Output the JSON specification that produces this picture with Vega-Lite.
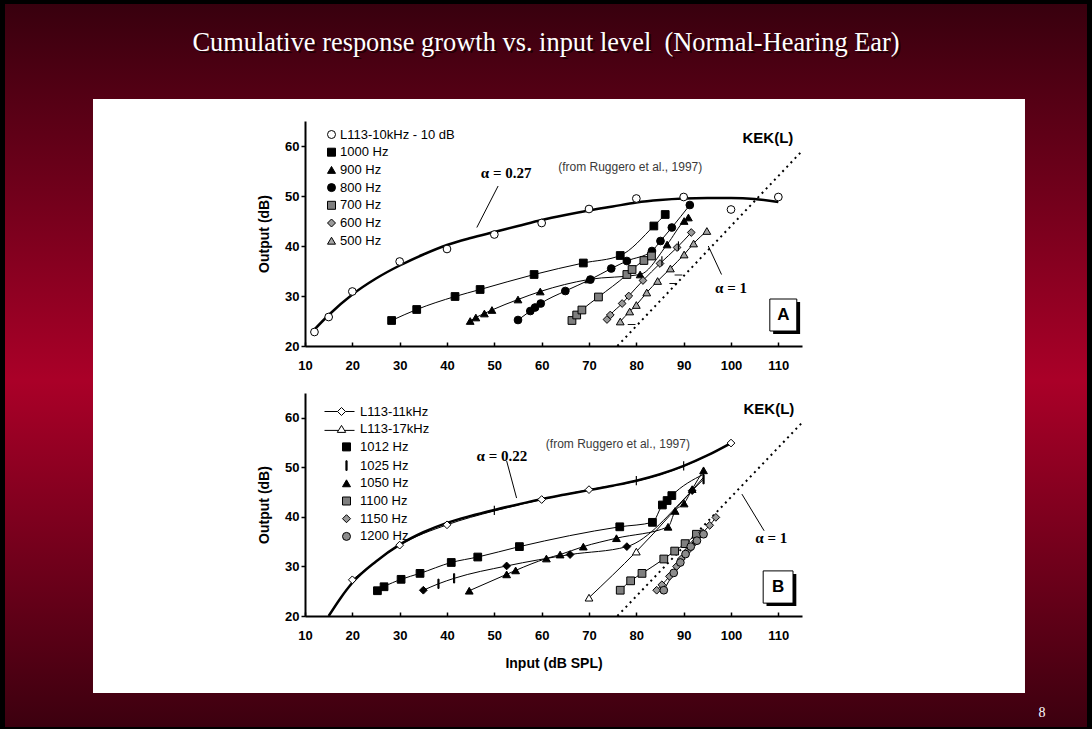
{
  "$schema": "https://vega.github.io/schema/vega-lite/v6.json",
  "background": "#000000",
  "padding": 0,
  "bounds": "flush",
  "spacing": 47,
  "config": {
    "view": {"stroke": null},
    "font": "Liberation Sans",
    "axis": {
      "grid": false, "domainColor": "#000000", "domainWidth": 2, "tickColor": "#000000", "tickWidth": 1.5,
      "labelColor": "#000000", "labelFont": "Liberation Sans", "labelFontWeight": "bold", "labelFontSize": 13,
      "titleColor": "#000000", "titleFont": "Liberation Sans", "titleFontWeight": "bold", "titleFontSize": 14,
      "labelOverlap": false, "labelFlush": false, "labelBound": false
    },
    "axisX": {"tickSize": -4, "labelPadding": 17, "titlePadding": 14},
    "axisY": {"tickSize": 4, "labelPadding": 2, "titlePadding": 13},
    "legend": {
      "labelFont": "Liberation Sans", "labelFontSize": 13, "labelColor": "#000000",
      "symbolSize": 64, "symbolStrokeWidth": 1, "rowPadding": 3.7, "padding": 0
    }
  },
  "datasets": {
    "one": [{"k": 1}],
    "kek": [{"input": 76, "output": 20}, {"input": 115, "output": 59}],
    "topPts": [
      {"series": "L113-10kHz - 10 dB", "input": 12, "output": 22.8},
      {"series": "L113-10kHz - 10 dB", "input": 15, "output": 25.8},
      {"series": "L113-10kHz - 10 dB", "input": 20, "output": 30.9},
      {"series": "L113-10kHz - 10 dB", "input": 30, "output": 36.9},
      {"series": "L113-10kHz - 10 dB", "input": 40, "output": 39.4},
      {"series": "L113-10kHz - 10 dB", "input": 50, "output": 42.3},
      {"series": "L113-10kHz - 10 dB", "input": 60, "output": 44.6},
      {"series": "L113-10kHz - 10 dB", "input": 70, "output": 47.4},
      {"series": "L113-10kHz - 10 dB", "input": 80, "output": 49.5},
      {"series": "L113-10kHz - 10 dB", "input": 90, "output": 49.8},
      {"series": "L113-10kHz - 10 dB", "input": 100, "output": 47.3},
      {"series": "L113-10kHz - 10 dB", "input": 110, "output": 49.8},
      {"series": "1000 Hz", "input": 28.3, "output": 25.1},
      {"series": "1000 Hz", "input": 33.6, "output": 27.3},
      {"series": "1000 Hz", "input": 41.7, "output": 29.9},
      {"series": "1000 Hz", "input": 47, "output": 31.3},
      {"series": "1000 Hz", "input": 58.4, "output": 34.3},
      {"series": "1000 Hz", "input": 68.8, "output": 36.6},
      {"series": "1000 Hz", "input": 76.6, "output": 38.1},
      {"series": "1000 Hz", "input": 83.7, "output": 44},
      {"series": "1000 Hz", "input": 86.1, "output": 46.3},
      {"series": "900 Hz", "input": 44.9, "output": 25},
      {"series": "900 Hz", "input": 46.1, "output": 25.7},
      {"series": "900 Hz", "input": 47.9, "output": 26.5},
      {"series": "900 Hz", "input": 49.5, "output": 27.2},
      {"series": "900 Hz", "input": 55, "output": 29.3},
      {"series": "900 Hz", "input": 59.7, "output": 30.9},
      {"series": "900 Hz", "input": 69.9, "output": 33.3},
      {"series": "900 Hz", "input": 80.8, "output": 34.3},
      {"series": "900 Hz", "input": 86.5, "output": 40.3},
      {"series": "900 Hz", "input": 90.1, "output": 45},
      {"series": "900 Hz", "input": 91, "output": 45.7},
      {"series": "800 Hz", "input": 55, "output": 25.2},
      {"series": "800 Hz", "input": 57.6, "output": 27},
      {"series": "800 Hz", "input": 58.6, "output": 27.7},
      {"series": "800 Hz", "input": 59.8, "output": 28.5},
      {"series": "800 Hz", "input": 65, "output": 31},
      {"series": "800 Hz", "input": 70.3, "output": 33.3},
      {"series": "800 Hz", "input": 74.7, "output": 35.5},
      {"series": "800 Hz", "input": 78, "output": 37},
      {"series": "800 Hz", "input": 83.3, "output": 39},
      {"series": "800 Hz", "input": 85.1, "output": 41},
      {"series": "800 Hz", "input": 87.5, "output": 43.7},
      {"series": "800 Hz", "input": 91.3, "output": 48.2},
      {"series": "700 Hz", "input": 66.4, "output": 25.1},
      {"series": "700 Hz", "input": 67.4, "output": 26.2},
      {"series": "700 Hz", "input": 68.5, "output": 27.2},
      {"series": "700 Hz", "input": 72, "output": 29.8},
      {"series": "700 Hz", "input": 78, "output": 34.3},
      {"series": "700 Hz", "input": 79.1, "output": 35.3},
      {"series": "700 Hz", "input": 81.6, "output": 37.1},
      {"series": "700 Hz", "input": 83.2, "output": 38},
      {"series": "600 Hz", "input": 73.8, "output": 25.3},
      {"series": "600 Hz", "input": 74.5, "output": 26.2},
      {"series": "600 Hz", "input": 77, "output": 28.5},
      {"series": "600 Hz", "input": 78.4, "output": 30},
      {"series": "600 Hz", "input": 81.4, "output": 33.1},
      {"series": "600 Hz", "input": 85, "output": 36.5},
      {"series": "600 Hz", "input": 88.6, "output": 39.7},
      {"series": "600 Hz", "input": 91.6, "output": 42.7},
      {"series": "500 Hz", "input": 76.6, "output": 24.9},
      {"series": "500 Hz", "input": 78.6, "output": 26.9},
      {"series": "500 Hz", "input": 80, "output": 28.2},
      {"series": "500 Hz", "input": 82.2, "output": 30.7},
      {"series": "500 Hz", "input": 84.5, "output": 33},
      {"series": "500 Hz", "input": 87.2, "output": 35.5},
      {"series": "500 Hz", "input": 90.1, "output": 38.3},
      {"series": "500 Hz", "input": 92.1, "output": 40.5},
      {"series": "500 Hz", "input": 94.9, "output": 43}
    ],
    "topFit": [
      {"input": 11.5, "output": 22.8}, {"input": 15, "output": 26.2}, {"input": 20, "output": 30.3},
      {"input": 25, "output": 33.5}, {"input": 30, "output": 36.1}, {"input": 35, "output": 38.3},
      {"input": 40, "output": 40.2}, {"input": 45, "output": 41.6}, {"input": 50, "output": 42.8},
      {"input": 55, "output": 44}, {"input": 60, "output": 45.2}, {"input": 65, "output": 46.2},
      {"input": 70, "output": 47.1}, {"input": 75, "output": 47.9}, {"input": 80, "output": 48.7},
      {"input": 85, "output": 49.2}, {"input": 90, "output": 49.5}, {"input": 95, "output": 49.6},
      {"input": 100, "output": 49.6}, {"input": 105, "output": 49.4}, {"input": 110, "output": 48.8}
    ],
    "topDashes": [
      {"input": 79, "output": 24.3}, {"input": 87.8, "output": 32.5}, {"input": 88.9, "output": 34.2}
    ],
    "topBars": [
      {"input": 85.4, "output": 37}, {"input": 88.9, "output": 40}
    ],
    "botPts": [
      {"series": "L113-11kHz", "input": 20, "output": 27.3},
      {"series": "L113-11kHz", "input": 30, "output": 34.3},
      {"series": "L113-11kHz", "input": 40, "output": 38.4},
      {"series": "L113-11kHz", "input": 60, "output": 43.5},
      {"series": "L113-11kHz", "input": 70, "output": 45.5},
      {"series": "L113-11kHz", "input": 100, "output": 54.9},
      {"series": "L113-17kHz", "input": 70, "output": 23.7},
      {"series": "L113-17kHz", "input": 80, "output": 33},
      {"series": "1012 Hz", "input": 25.3, "output": 25.1},
      {"series": "1012 Hz", "input": 26.7, "output": 25.9},
      {"series": "1012 Hz", "input": 30.3, "output": 27.4},
      {"series": "1012 Hz", "input": 34.3, "output": 28.6},
      {"series": "1012 Hz", "input": 40.9, "output": 30.8},
      {"series": "1012 Hz", "input": 46.5, "output": 31.9},
      {"series": "1012 Hz", "input": 55.3, "output": 34},
      {"series": "1012 Hz", "input": 76.5, "output": 38},
      {"series": "1012 Hz", "input": 83.4, "output": 38.9},
      {"series": "1012 Hz", "input": 85.5, "output": 42.4},
      {"series": "1012 Hz", "input": 86.5, "output": 43.3},
      {"series": "1012 Hz", "input": 87.5, "output": 44.3},
      {"series": "1025 Hz", "input": 38.2, "output": 26.5},
      {"series": "1025 Hz", "input": 41.5, "output": 27.6},
      {"series": "1025 Hz", "input": 94.2, "output": 47.6},
      {"series": "1025 Hz b", "input": 35, "output": 25.2},
      {"series": "1025 Hz b", "input": 52.6, "output": 30.1},
      {"series": "1025 Hz b", "input": 66, "output": 32.4},
      {"series": "1025 Hz b", "input": 78, "output": 34},
      {"series": "1025 Hz b", "input": 91.8, "output": 45.3},
      {"series": "1050 Hz", "input": 44.7, "output": 25.1},
      {"series": "1050 Hz", "input": 52.6, "output": 28.4},
      {"series": "1050 Hz", "input": 54.5, "output": 29.2},
      {"series": "1050 Hz", "input": 61, "output": 31.6},
      {"series": "1050 Hz", "input": 63.9, "output": 32.4},
      {"series": "1050 Hz", "input": 68.8, "output": 34},
      {"series": "1050 Hz", "input": 75.8, "output": 35.7},
      {"series": "1050 Hz", "input": 86.7, "output": 38},
      {"series": "1050 Hz", "input": 88.2, "output": 41.2},
      {"series": "1050 Hz", "input": 90.1, "output": 42.7},
      {"series": "1050 Hz", "input": 91.8, "output": 45.6},
      {"series": "1050 Hz", "input": 94.2, "output": 49.4},
      {"series": "1100 Hz", "input": 76.6, "output": 25.2},
      {"series": "1100 Hz", "input": 78.8, "output": 27.1},
      {"series": "1100 Hz", "input": 81.2, "output": 28.6},
      {"series": "1100 Hz", "input": 85.8, "output": 31.5},
      {"series": "1100 Hz", "input": 88.1, "output": 33.1},
      {"series": "1100 Hz", "input": 90.3, "output": 34.6},
      {"series": "1100 Hz", "input": 92.7, "output": 36.5},
      {"series": "1150 Hz", "input": 84.3, "output": 25.2},
      {"series": "1150 Hz", "input": 85.4, "output": 26.3},
      {"series": "1150 Hz", "input": 87, "output": 28},
      {"series": "1150 Hz", "input": 88.5, "output": 30},
      {"series": "1150 Hz", "input": 89.5, "output": 31.5},
      {"series": "1150 Hz", "input": 91, "output": 33.3},
      {"series": "1150 Hz", "input": 92.5, "output": 35},
      {"series": "1150 Hz", "input": 94, "output": 36.8},
      {"series": "1150 Hz", "input": 95.5, "output": 38.3},
      {"series": "1150 Hz", "input": 96.8, "output": 39.9},
      {"series": "1200 Hz", "input": 85.8, "output": 25.2},
      {"series": "1200 Hz", "input": 87.9, "output": 28.7},
      {"series": "1200 Hz", "input": 89.3, "output": 30.8},
      {"series": "1200 Hz", "input": 90.4, "output": 32.5},
      {"series": "1200 Hz", "input": 91.5, "output": 34},
      {"series": "1200 Hz", "input": 92.8, "output": 35.2},
      {"series": "1200 Hz", "input": 94.2, "output": 36.5}
    ],
    "botCurves": [
      {"curve": "11k", "input": 20, "output": 27.3}, {"curve": "11k", "input": 25, "output": 31},
      {"curve": "11k", "input": 30, "output": 34.3}, {"curve": "11k", "input": 40, "output": 38.4},
      {"curve": "11k", "input": 50, "output": 41.2}, {"curve": "11k", "input": 60, "output": 43.5},
      {"curve": "11k", "input": 70, "output": 45.5}, {"curve": "11k", "input": 80, "output": 47.2},
      {"curve": "11k", "input": 90, "output": 50.2}, {"curve": "11k", "input": 100, "output": 54.9},
      {"curve": "17k", "input": 70, "output": 23.7}, {"curve": "17k", "input": 80, "output": 33},
      {"curve": "17k", "input": 94.2, "output": 48},
      {"curve": "1012", "input": 25.3, "output": 25.1}, {"curve": "1012", "input": 26.7, "output": 25.9},
      {"curve": "1012", "input": 30.3, "output": 27.4}, {"curve": "1012", "input": 34.3, "output": 28.6},
      {"curve": "1012", "input": 40.9, "output": 30.8}, {"curve": "1012", "input": 46.5, "output": 31.9},
      {"curve": "1012", "input": 55.3, "output": 34}, {"curve": "1012", "input": 76.5, "output": 38},
      {"curve": "1012", "input": 83.4, "output": 38.9}, {"curve": "1012", "input": 85.5, "output": 42.4},
      {"curve": "1012", "input": 86.5, "output": 43.3}, {"curve": "1012", "input": 87.5, "output": 44.3},
      {"curve": "1012", "input": 94.2, "output": 48.6},
      {"curve": "1025", "input": 35, "output": 25.2}, {"curve": "1025", "input": 38.2, "output": 26.5},
      {"curve": "1025", "input": 41.5, "output": 27.6}, {"curve": "1025", "input": 52.6, "output": 30.1},
      {"curve": "1025", "input": 66, "output": 32.4}, {"curve": "1025", "input": 78, "output": 34},
      {"curve": "1025", "input": 91.8, "output": 45.3}, {"curve": "1025", "input": 94.2, "output": 47.6},
      {"curve": "1050", "input": 44.7, "output": 25.1}, {"curve": "1050", "input": 52.6, "output": 28.4},
      {"curve": "1050", "input": 54.5, "output": 29.2}, {"curve": "1050", "input": 61, "output": 31.6},
      {"curve": "1050", "input": 63.9, "output": 32.4}, {"curve": "1050", "input": 68.8, "output": 34},
      {"curve": "1050", "input": 75.8, "output": 35.7}, {"curve": "1050", "input": 86.7, "output": 38},
      {"curve": "1050", "input": 88.2, "output": 41.2}, {"curve": "1050", "input": 90.1, "output": 42.7},
      {"curve": "1050", "input": 91.8, "output": 45.6}, {"curve": "1050", "input": 94.2, "output": 49.4},
      {"curve": "1100", "input": 76.6, "output": 25.2}, {"curve": "1100", "input": 78.8, "output": 27.1},
      {"curve": "1100", "input": 81.2, "output": 28.6}, {"curve": "1100", "input": 85.8, "output": 31.5},
      {"curve": "1100", "input": 88.1, "output": 33.1}, {"curve": "1100", "input": 90.3, "output": 34.6},
      {"curve": "1100", "input": 92.7, "output": 36.5},
      {"curve": "1150", "input": 84.3, "output": 25.2}, {"curve": "1150", "input": 85.4, "output": 26.3},
      {"curve": "1150", "input": 87, "output": 28}, {"curve": "1150", "input": 88.5, "output": 30},
      {"curve": "1150", "input": 89.5, "output": 31.5}, {"curve": "1150", "input": 91, "output": 33.3},
      {"curve": "1150", "input": 92.5, "output": 35}, {"curve": "1150", "input": 94, "output": 36.8},
      {"curve": "1150", "input": 95.5, "output": 38.3}, {"curve": "1150", "input": 96.8, "output": 39.9},
      {"curve": "1200", "input": 85.8, "output": 25.2}, {"curve": "1200", "input": 87.9, "output": 28.7},
      {"curve": "1200", "input": 89.3, "output": 30.8}, {"curve": "1200", "input": 90.4, "output": 32.5},
      {"curve": "1200", "input": 91.5, "output": 34}, {"curve": "1200", "input": 92.8, "output": 35.2},
      {"curve": "1200", "input": 94.2, "output": 36.5}
    ],
    "botFit": [
      {"input": 15, "output": 20}, {"input": 17.5, "output": 23.6}, {"input": 20, "output": 26.7},
      {"input": 25, "output": 31}, {"input": 30, "output": 34.4}, {"input": 35, "output": 36.9},
      {"input": 40, "output": 38.8}, {"input": 45, "output": 40.2}, {"input": 50, "output": 41.4},
      {"input": 55, "output": 42.5}, {"input": 60, "output": 43.6}, {"input": 65, "output": 44.5},
      {"input": 70, "output": 45.4}, {"input": 75, "output": 46.3}, {"input": 80, "output": 47.3},
      {"input": 85, "output": 48.6}, {"input": 90, "output": 50.3}, {"input": 95, "output": 52.4},
      {"input": 100, "output": 54.9}
    ],
    "fitMarks": [
      {"input": 50, "output": 41.3}, {"input": 80, "output": 47.3}, {"input": 90, "output": 50.3}
    ]
  },
  "vconcat": [
    {
      "width": 497,
      "height": 225,
      "layer": [
        {"data": {"name": "one"}, "mark": {"type": "rect", "fill": "#000000", "clip": false},
         "encoding": {"x": {"datum": -54.4366, "type": "quantitative"}, "x2": {"datum": 176.2676}, "y": {"datum": 89, "type": "quantitative"}, "y2": {"datum": -56.8}}},
        {"data": {"name": "one"},
         "mark": {"type": "rect", "clip": false,
                  "fill": {"gradient": "linear", "x1": 0, "y1": 0, "x2": 0, "y2": 1,
                           "stops": [{"offset": 0, "color": "#38000e"}, {"offset": 0.52, "color": "#aa0028"}, {"offset": 1, "color": "#3c000f"}]}},
         "encoding": {"x": {"datum": -53.38, "type": "quantitative"}, "x2": {"datum": 175.21}, "y": {"datum": 88.4, "type": "quantitative"}, "y2": {"datum": -56.2}}},
        {"data": {"name": "one"}, "mark": {"type": "rect", "fill": "#ffffff", "clip": false},
         "encoding": {"x": {"datum": -34.79, "type": "quantitative"}, "x2": {"datum": 162.11}, "y": {"datum": 69.4, "type": "quantitative"}, "y2": {"datum": -49.4}}},
        {"data": {"name": "one"},
         "mark": {"type": "text", "font": "Liberation Serif", "fontSize": 26.4, "fill": "#140003", "opacity": 0.8, "align": "center", "baseline": "middle", "dx": 2, "dy": 2, "clip": false},
         "encoding": {"x": {"datum": 60.92, "type": "quantitative"}, "y": {"datum": 80.6, "type": "quantitative"}, "text": {"value": "Cumulative response growth vs. input level \u00a0(Normal-Hearing Ear)"}}},
        {"data": {"name": "one"},
         "mark": {"type": "text", "font": "Liberation Serif", "fontSize": 26.4, "fill": "#ffffff", "align": "center", "baseline": "middle", "clip": false},
         "encoding": {"x": {"datum": 60.92, "type": "quantitative"}, "y": {"datum": 80.6, "type": "quantitative"}, "text": {"value": "Cumulative response growth vs. input level \u00a0(Normal-Hearing Ear)"}}},
        {"data": {"name": "one"},
         "mark": {"type": "text", "font": "Liberation Serif", "fontSize": 14, "fill": "#ffffff", "align": "center", "baseline": "middle", "clip": false},
         "encoding": {"x": {"datum": 165.7, "type": "quantitative"}, "y": {"datum": -53.4, "type": "quantitative"}, "text": {"value": "8"}}},
        {"data": {"name": "one"}, "mark": {"type": "rect", "fill": "#000000"},
         "encoding": {"x": {"datum": 108.9, "type": "quantitative"}, "x2": {"datum": 114.6}, "y": {"datum": 28.8, "type": "quantitative"}, "y2": {"datum": 22.4}}},
        {"data": {"name": "one"}, "mark": {"type": "rect", "fill": "#ffffff", "stroke": "#000000", "strokeWidth": 1},
         "encoding": {"x": {"datum": 108.2, "type": "quantitative"}, "x2": {"datum": 113.9}, "y": {"datum": 29.4, "type": "quantitative"}, "y2": {"datum": 23}}},
        {"data": {"name": "one"},
         "mark": {"type": "text", "fontSize": 17, "fontWeight": "bold", "align": "center", "baseline": "middle", "fill": "#000000"},
         "encoding": {"x": {"datum": 111.05, "type": "quantitative"}, "y": {"datum": 26.2, "type": "quantitative"}, "text": {"value": "A"}}},
        {
          "encoding": {
            "x": {"field": "input", "type": "quantitative", "scale": {"domain": [10, 115], "nice": false, "zero": false},
                  "axis": {"title": null, "zindex": 1, "values": [10,15,20,25,30,35,40,45,50,55,60,65,70,75,80,85,90,95,100,105,110,115], "labelExpr": "datum.value % 10 === 0 ? datum.label : ''"}},
            "y": {"field": "output", "type": "quantitative", "scale": {"domain": [20, 65], "nice": false, "zero": false},
                  "axis": {"title": "Output (dB)", "zindex": 1, "values": [20,25,30,35,40,45,50,55,60,65], "labelExpr": "datum.value % 10 === 0 ? datum.label : ''"}}
          },
          "layer": [
            {"data": {"name": "kek"}, "mark": {"type": "line", "color": "#000000", "strokeWidth": 2, "strokeDash": [2, 4], "clip": false},
             "encoding": {}},
            {"data": {"name": "topFit"}, "mark": {"type": "line", "color": "#000000", "strokeWidth": 2.5, "interpolate": "monotone"},
             "encoding": {}},
            {"data": {"name": "topPts"},
             "transform": [{"filter": "datum.series !== 'L113-10kHz - 10 dB'"}],
             "mark": {"type": "line", "color": "#000000", "strokeWidth": 1, "interpolate": "monotone"},
             "encoding": {"detail": {"field": "series"}, "order": {"field": "input", "type": "quantitative"}}},
            {"data": {"name": "topPts"},
             "mark": {"type": "point", "filled": true, "size": 60, "strokeWidth": 1, "opacity": 1},
             "encoding": {
               "shape": {"field": "series", "type": "nominal",
                         "scale": {"domain": ["L113-10kHz - 10 dB", "1000 Hz", "900 Hz", "800 Hz", "700 Hz", "600 Hz", "500 Hz"],
                                   "range": ["circle", "square", "triangle-up", "circle", "square", "diamond", "triangle-up"]},
                         "legend": {"title": null, "orient": "none", "legendX": 20, "legendY": 7, "labelOffset": 2}},
               "fill": {"field": "series", "type": "nominal",
                        "scale": {"domain": ["L113-10kHz - 10 dB", "1000 Hz", "900 Hz", "800 Hz", "700 Hz", "600 Hz", "500 Hz"],
                                  "range": ["#ffffff", "#000000", "#000000", "#000000", "#7f7f7f", "#999999", "#a6a6a6"]},
                        "legend": {"title": null, "orient": "none", "legendX": 20, "legendY": 7, "labelOffset": 2}},
               "stroke": {"field": "series", "type": "nominal",
                          "scale": {"domain": ["L113-10kHz - 10 dB", "1000 Hz", "900 Hz", "800 Hz", "700 Hz", "600 Hz", "500 Hz"],
                                    "range": ["#000000", "#000000", "#000000", "#000000", "#000000", "#000000", "#000000"]},
                          "legend": {"title": null, "orient": "none", "legendX": 20, "legendY": 7, "labelOffset": 2}}
             }},
            {"data": {"name": "topDashes"},
             "mark": {"type": "point", "filled": true, "size": 60, "fill": "#000000", "opacity": 1, "shape": "M-1,-0.12H1V0.12H-1Z"},
             "encoding": {}},
            {"data": {"name": "topBars"},
             "mark": {"type": "point", "filled": true, "size": 60, "fill": "#000000", "opacity": 1, "shape": "M-0.15,-1.2H0.15V1.2H-0.15Z"},
             "encoding": {}}
          ]
        },
        {"data": {"name": "one"},
         "mark": {"type": "text", "font": "Liberation Serif", "fontSize": 15, "fontWeight": "bold", "align": "center", "baseline": "middle", "fill": "#000000"},
         "encoding": {"x": {"datum": 52.5, "type": "quantitative"}, "y": {"datum": 54.6, "type": "quantitative"}, "text": {"value": "α = 0.27"}}},
        {"data": {"name": "one"},
         "mark": {"type": "text", "fontSize": 12, "letterSpacing": 1.9, "align": "center", "baseline": "middle", "fill": "#3a3a3a"},
         "encoding": {"x": {"datum": 78.7, "type": "quantitative"}, "y": {"datum": 55.8, "type": "quantitative"}, "text": {"value": "(from Ruggero et al., 1997)"}}},
        {"data": {"name": "one"},
         "mark": {"type": "text", "fontSize": 15, "fontWeight": "bold", "align": "center", "baseline": "middle", "fill": "#000000", "letterSpacing": -0.5},
         "encoding": {"x": {"datum": 107.8, "type": "quantitative"}, "y": {"datum": 61.6, "type": "quantitative"}, "text": {"value": "KEK(L)"}}},
        {"data": {"name": "one"},
         "mark": {"type": "text", "font": "Liberation Serif", "fontSize": 15, "fontWeight": "bold", "align": "center", "baseline": "middle", "fill": "#000000"},
         "encoding": {"x": {"datum": 100, "type": "quantitative"}, "y": {"datum": 31.6, "type": "quantitative"}, "text": {"value": "α = 1"}}},
        {"data": {"name": "one"}, "mark": {"type": "rule", "color": "#000000", "strokeWidth": 1},
         "encoding": {"x": {"datum": 50.8, "type": "quantitative"}, "y": {"datum": 52, "type": "quantitative"}, "x2": {"datum": 46.3}, "y2": {"datum": 43.7}}},
        {"data": {"name": "one"}, "mark": {"type": "rule", "color": "#000000", "strokeWidth": 1},
         "encoding": {"x": {"datum": 98, "type": "quantitative"}, "y": {"datum": 34.3, "type": "quantitative"}, "x2": {"datum": 95.2}, "y2": {"datum": 40}}}
      ]
    },
    {
      "width": 497,
      "height": 223,
      "layer": [
        {"data": {"name": "one"}, "mark": {"type": "rect", "fill": "#000000"},
         "encoding": {"x": {"datum": 107.5, "type": "quantitative"}, "x2": {"datum": 113.8}, "y": {"datum": 28.5, "type": "quantitative"}, "y2": {"datum": 22}}},
        {"data": {"name": "one"}, "mark": {"type": "rect", "fill": "#ffffff", "stroke": "#000000", "strokeWidth": 1},
         "encoding": {"x": {"datum": 106.8, "type": "quantitative"}, "x2": {"datum": 113.1}, "y": {"datum": 29.1, "type": "quantitative"}, "y2": {"datum": 22.6}}},
        {"data": {"name": "one"},
         "mark": {"type": "text", "fontSize": 17, "fontWeight": "bold", "align": "center", "baseline": "middle", "fill": "#000000"},
         "encoding": {"x": {"datum": 109.95, "type": "quantitative"}, "y": {"datum": 25.85, "type": "quantitative"}, "text": {"value": "B"}}},
        {
          "encoding": {
            "x": {"field": "input", "type": "quantitative", "scale": {"domain": [10, 115], "nice": false, "zero": false},
                  "axis": {"title": "Input (dB SPL)", "zindex": 1, "values": [10,15,20,25,30,35,40,45,50,55,60,65,70,75,80,85,90,95,100,105,110,115], "labelExpr": "datum.value % 10 === 0 ? datum.label : ''"}},
            "y": {"field": "output", "type": "quantitative", "scale": {"domain": [20, 65], "nice": false, "zero": false},
                  "axis": {"title": "Output (dB)", "zindex": 1, "values": [20,25,30,35,40,45,50,55,60,65], "labelExpr": "datum.value % 10 === 0 ? datum.label : ''"}}
          },
          "layer": [
            {"data": {"name": "kek"}, "mark": {"type": "line", "color": "#000000", "strokeWidth": 2, "strokeDash": [2, 4], "clip": false},
             "encoding": {}},
            {"data": {"name": "botFit"}, "mark": {"type": "line", "color": "#000000", "strokeWidth": 2.5, "interpolate": "monotone", "clip": false},
             "encoding": {}},
            {"data": {"name": "botCurves"},
             "mark": {"type": "line", "color": "#000000", "strokeWidth": 1, "interpolate": "monotone"},
             "encoding": {"detail": {"field": "curve"}, "order": {"field": "input", "type": "quantitative"}}},
            {"data": {"name": "botPts"},
             "mark": {"type": "point", "filled": true, "size": 60, "stroke": "#000000", "strokeWidth": 1, "opacity": 1},
             "encoding": {
               "shape": {"field": "series", "type": "nominal",
                         "scale": {"domain": ["L113-11kHz", "L113-17kHz", "1012 Hz", "1025 Hz", "1050 Hz", "1100 Hz", "1150 Hz", "1200 Hz", "1025 Hz b"],
                                   "range": ["diamond", "triangle-up", "square", "M-0.15,-1.2H0.15V1.2H-0.15Z", "triangle-up", "square", "diamond", "circle", "diamond"]},
                         "legend": null},
               "fill": {"field": "series", "type": "nominal",
                        "scale": {"domain": ["L113-11kHz", "L113-17kHz", "1012 Hz", "1025 Hz", "1050 Hz", "1100 Hz", "1150 Hz", "1200 Hz", "1025 Hz b"],
                                  "range": ["#ffffff", "#ffffff", "#000000", "#000000", "#000000", "#7f7f7f", "#999999", "#8c8c8c", "#000000"]},
                        "legend": null}
             }},
            {"data": {"name": "fitMarks"},
             "mark": {"type": "point", "filled": true, "size": 60, "fill": "#000000", "opacity": 1, "shape": "M-0.15,-1.2H0.15V1.2H-0.15Z"},
             "encoding": {}},
            {"data": {"name": "botPts"},
             "transform": [{"filter": "datum.input > 1000"}],
             "mark": {"type": "point", "filled": true, "size": 60, "strokeWidth": 1, "opacity": 1},
             "encoding": {
               "shape": {"field": "series", "type": "nominal",
                         "scale": {"domain": ["L113-11kHz", "L113-17kHz", "1012 Hz", "1025 Hz", "1050 Hz", "1100 Hz", "1150 Hz", "1200 Hz"],
                                   "range": ["M-5.5,0H-2.25M-0.25,0H2M-1.25,-1L-0.25,0L-1.25,1L-2.25,0Z",
                                             "M-5.5,0.3H-2.1M-0.4,0.3H2M-1.25,-0.95L-0.2,0.8L-2.3,0.8Z",
                                             "square", "M-0.15,-1.2H0.15V1.2H-0.15Z", "triangle-up", "square", "diamond", "circle"]},
                         "legend": {"title": null, "orient": "none", "legendX": 35, "legendY": 12, "labelOffset": 7}},
               "fill": {"field": "series", "type": "nominal",
                        "scale": {"domain": ["L113-11kHz", "L113-17kHz", "1012 Hz", "1025 Hz", "1050 Hz", "1100 Hz", "1150 Hz", "1200 Hz"],
                                  "range": ["#ffffff", "#ffffff", "#000000", "#000000", "#000000", "#7f7f7f", "#999999", "#8c8c8c"]},
                        "legend": {"title": null, "orient": "none", "legendX": 35, "legendY": 12, "labelOffset": 7}},
               "stroke": {"field": "series", "type": "nominal",
                          "scale": {"domain": ["L113-11kHz", "L113-17kHz", "1012 Hz", "1025 Hz", "1050 Hz", "1100 Hz", "1150 Hz", "1200 Hz"],
                                    "range": ["#000000", "#000000", "#000000", "#000000", "#000000", "#000000", "#000000", "#000000"]},
                          "legend": {"title": null, "orient": "none", "legendX": 35, "legendY": 12, "labelOffset": 7}}
             }}
          ],
          "resolve": {"scale": {"shape": "independent", "fill": "independent", "stroke": "independent"}}
        },
        {"data": {"name": "one"},
         "mark": {"type": "text", "font": "Liberation Serif", "fontSize": 15, "fontWeight": "bold", "align": "center", "baseline": "middle", "fill": "#000000"},
         "encoding": {"x": {"datum": 51.6, "type": "quantitative"}, "y": {"datum": 52.3, "type": "quantitative"}, "text": {"value": "α = 0.22"}}},
        {"data": {"name": "one"},
         "mark": {"type": "text", "fontSize": 12, "letterSpacing": 1.9, "align": "center", "baseline": "middle", "fill": "#3a3a3a"},
         "encoding": {"x": {"datum": 76.1, "type": "quantitative"}, "y": {"datum": 54.7, "type": "quantitative"}, "text": {"value": "(from Ruggero et al., 1997)"}}},
        {"data": {"name": "one"},
         "mark": {"type": "text", "fontSize": 15, "fontWeight": "bold", "align": "center", "baseline": "middle", "fill": "#000000", "letterSpacing": -0.5},
         "encoding": {"x": {"datum": 108, "type": "quantitative"}, "y": {"datum": 61.8, "type": "quantitative"}, "text": {"value": "KEK(L)"}}},
        {"data": {"name": "one"},
         "mark": {"type": "text", "font": "Liberation Serif", "fontSize": 15, "fontWeight": "bold", "align": "center", "baseline": "middle", "fill": "#000000"},
         "encoding": {"x": {"datum": 108.5, "type": "quantitative"}, "y": {"datum": 35.7, "type": "quantitative"}, "text": {"value": "α = 1"}}},
        {"data": {"name": "one"}, "mark": {"type": "rule", "color": "#000000", "strokeWidth": 1},
         "encoding": {"x": {"datum": 52.6, "type": "quantitative"}, "y": {"datum": 51.3, "type": "quantitative"}, "x2": {"datum": 54.7}, "y2": {"datum": 43.8}}},
        {"data": {"name": "one"}, "mark": {"type": "rule", "color": "#000000", "strokeWidth": 1},
         "encoding": {"x": {"datum": 102.3, "type": "quantitative"}, "y": {"datum": 44.6, "type": "quantitative"}, "x2": {"datum": 107}, "y2": {"datum": 37.2}}}
      ]
    }
  ]
}
